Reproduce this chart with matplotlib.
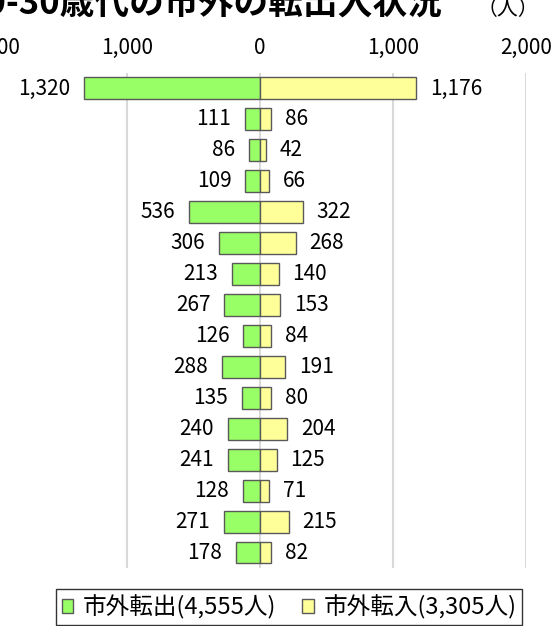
import matplotlib.pyplot as plt
from matplotlib.patches import Patch
import numpy as np

plt.rcParams['font.family'] = ['Noto Sans CJK JP', 'DejaVu Sans']

# 市外転出 / 市外転入 (人)
out_vals = [1320, 111, 86, 109, 536, 306, 213, 267, 126, 288, 135, 240, 241, 128, 271, 178]
in_vals = [1176, 86, 42, 66, 322, 268, 140, 153, 84, 191, 80, 204, 125, 71, 215, 82]
out_label = '市外転出(4,555人)'
in_label = '市外転入(3,305人)'
title = '20-30歳代の市外の転出入状況'
xticks = [-2000, -1000, 0, 1000, 2000]

green = '#99ff66'
yellow = '#ffff99'
edge = '#595959'

fig = plt.figure(figsize=(5.58, 6.26), dpi=100)
ax = fig.add_axes([-0.0108, 0.0927, 0.9534, 0.7907])

y = np.arange(len(out_vals))
ax.barh(y, [-v for v in out_vals], height=0.71, color=green, edgecolor=edge, linewidth=1, zorder=3)
ax.barh(y, in_vals, height=0.71, color=yellow, edgecolor=edge, linewidth=1, zorder=3)

for i, (a, b) in enumerate(zip(out_vals, in_vals)):
    ax.annotate(f'{a:,}', (-a, i), xytext=(-10, 0), textcoords='offset points',
                ha='right', va='center', fontsize=15)
    ax.annotate(f'{b:,}', (b, i), xytext=(10, 0), textcoords='offset points',
                ha='left', va='center', fontsize=15)

ax.set_xlim(-2000, 2000)
ax.set_ylim(len(out_vals) - 0.5, -0.5)
ax.set_xticks(xticks)
ax.set_xticklabels([f'{abs(t):,}' for t in xticks], fontsize=15)
ax.xaxis.tick_top()
ax.tick_params(axis='x', length=0, pad=10)
ax.set_yticks([])
ax.grid(axis='x', color='#d9d9d9', linewidth=1.5, zorder=0)
for s in ax.spines.values():
    s.set_visible(False)

fig.text(443 / 558, 1 - 15 / 626, title, ha='right', va='baseline',
         fontsize=25, fontweight='bold')
fig.text(508 / 558, 1 - 15 / 626, '（人）', ha='center', va='baseline', fontsize=15)

handles = [Patch(facecolor=green, edgecolor=edge, label=out_label),
           Patch(facecolor=yellow, edgecolor=edge, label=in_label)]
leg = fig.legend(handles=handles, loc='center', bbox_to_anchor=(289 / 558, 1 - 607 / 626),
                 ncol=2, fontsize=17, frameon=True, fancybox=False, edgecolor='black',
                 handlelength=0.5, handleheight=0.5, handletextpad=0.4, columnspacing=1.1,
                 borderpad=0.25, borderaxespad=0)
leg.get_frame().set_linewidth(1)

fig.savefig('out.png', dpi=100)
